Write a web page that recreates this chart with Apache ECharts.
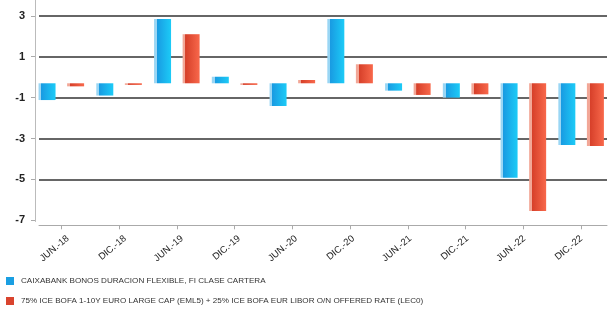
<!DOCTYPE html>
<html>
<head>
<meta charset="utf-8">
<script src="https://cdn.jsdelivr.net/npm/echarts@6/dist/echarts.min.js"></script>
<style>
html,body{margin:0;padding:0;background:#fff;}
#c{width:610px;height:309px;}
</style>
</head>
<body>
<div id="c"></div>
<script>
const categories = ['JUN.-18','DIC.-18','JUN.-19','DIC.-19','JUN.-20','DIC.-20','JUN.-21','DIC.-21','JUN.-22','DIC.-22'];
const fundName = 'CAIXABANK BONOS DURACION FLEXIBLE, FI CLASE CARTERA';
const benchName = '75% ICE BOFA 1-10Y EURO LARGE CAP (EML5) + 25% ICE BOFA EUR LIBOR O/N OFFERED RATE (LEC0)';
const fundValues = [-0.82, -0.6, 3.14, 0.32, -1.11, 3.14, -0.36, -0.70, -4.62, -3.02];
const benchValues = [-0.15, -0.08, 2.40, -0.08, 0.16, 0.93, -0.57, -0.54, -6.24, -3.07];
const yMin = -6.7, yMax = 3.3, yStep = 2;

const chart = echarts.init(document.getElementById('c'), null, {renderer:'canvas'});
const TOP = 15.8, H = 204.5;
function grad(light, dark, bright){
  return new echarts.graphic.LinearGradient(0,0,1,0,[
    {offset:0,color:light},{offset:0.16,color:light},
    {offset:0.17,color:dark},{offset:1,color:bright}]);
}
const font = 'Liberation Sans, Arial, sans-serif';
const legendText = {fontSize:8.1, color:'#333', fontFamily:font, padding:[0,0,0,2]};
chart.setOption({
  animation:false,
  backgroundColor:'#fff',
  grid:[
    {left:32.45, width:581, top:TOP, height:H},   // bars
    {left:39, width:568, top:TOP, height:H},      // gridlines + y labels + x axis line
    {left:35, width:1, top:0, height:221.5},      // y axis line
    {left:39.45, width:581, top:TOP, height:H}    // x labels
  ],
  xAxis:[
    {gridIndex:0, type:'category', data:categories, offset:5,
     axisLine:{show:false, onZero:false}, axisTick:{show:true, alignWithLabel:true, length:4, lineStyle:{color:'#aaa'}},
     axisLabel:{show:false}, splitLine:{show:false}},
    {gridIndex:1, type:'value', min:0, max:1, offset:5,
     axisLine:{show:true, onZero:false, lineStyle:{color:'#aaa', width:1}}, axisTick:{show:false}, axisLabel:{show:false}, splitLine:{show:false}},
    {gridIndex:2, type:'value', min:0, max:1, show:false},
    {gridIndex:3, type:'category', data:categories, offset:5,
     axisLine:{show:false, onZero:false}, axisTick:{show:false}, splitLine:{show:false},
     axisLabel:{show:true, rotate:40, margin:12, fontSize:9.5, color:'#222', fontFamily:font, interval:0}}
  ],
  yAxis:[
    {gridIndex:0, type:'value', min:yMin, max:yMax, interval:yStep, show:false, splitLine:{show:false}},
    {gridIndex:1, type:'value', min:yMin, max:yMax, interval:yStep, offset:4,
     axisLine:{show:false, onZero:false}, axisTick:{show:true, length:4, lineStyle:{color:'#aaa'}},
     axisLabel:{show:true, margin:10, fontSize:11, fontWeight:'bold', color:'#222', fontFamily:font,
       formatter:v=>String(Math.round(v))},
     splitLine:{show:true, showMinLine:false, lineStyle:{color:'#333', width:1.5}}},
    {gridIndex:2, type:'value', min:0, max:1,
     axisLine:{show:true, onZero:false, lineStyle:{color:'#bbb', width:1}}, axisTick:{show:false}, axisLabel:{show:false}, splitLine:{show:false}},
    {gridIndex:3, type:'value', min:yMin, max:yMax, show:false}
  ],
  legend:[
    {left:6, top:277, padding:0, itemWidth:8, itemHeight:8, icon:'rect', textStyle:legendText,
     data:[{name:fundName, itemStyle:{color:'#1a9fe2'}}]},
    {left:6, top:297, padding:0, itemWidth:8, itemHeight:8, icon:'rect', textStyle:legendText,
     data:[{name:benchName, itemStyle:{color:'#d9442e'}}]}
  ],
  series:[
    {name:fundName, type:'bar', xAxisIndex:0, yAxisIndex:0, data:fundValues, barWidth:17, barGap:'68%',
     itemStyle:{color:grad('#9ad6f4','#199be2','#1ccbf7')}},
    {name:benchName, type:'bar', xAxisIndex:0, yAxisIndex:0, data:benchValues, barWidth:17, barGap:'68%',
     itemStyle:{color:grad('#f2a797','#d63f29','#f8684b')}}
  ]
});
</script>
</body>
</html>
